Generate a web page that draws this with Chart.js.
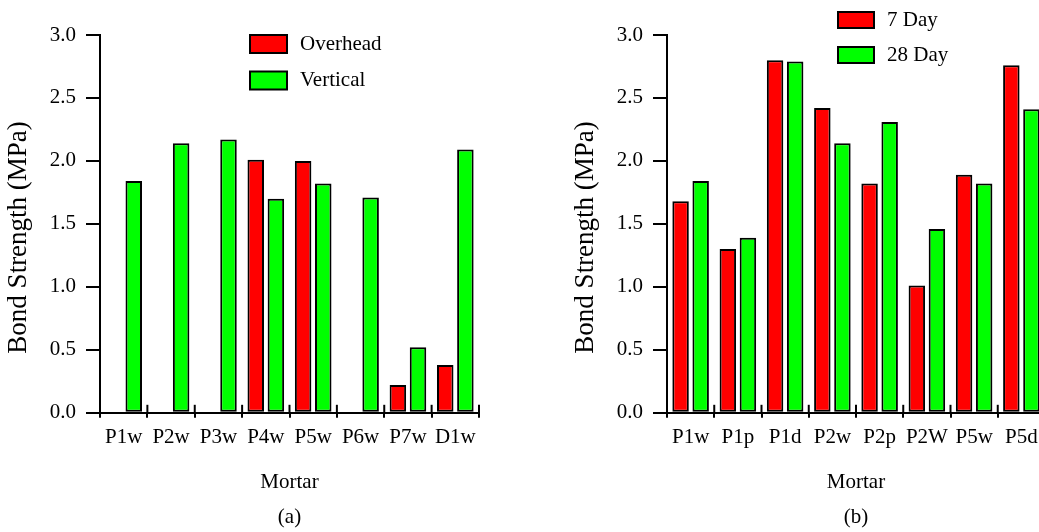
<!DOCTYPE html>
<html>
<head>
<meta charset="utf-8">
<script src="https://cdn.jsdelivr.net/npm/chart.js@4.4.1/dist/chart.umd.min.js"></script>
<style>
  body { margin: 0; width: 1039px; height: 532px; overflow: hidden; background: #fff; position: relative; }
  canvas { position: absolute; top: 0; }
  #chartA { left: 0; }
  #chartB { left: 567px; }
</style>
</head>
<body>
<canvas id="chartA" width="500" height="532"></canvas>
<canvas id="chartB" width="500" height="532"></canvas>
<script>
const yTickLabels = ["0.0", "0.5", "1.0", "1.5", "2.0", "2.5", "3.0"];

// (a) overhead vs vertical application
const mortarsA = ["P1w", "P2w", "P3w", "P4w", "P5w", "P6w", "P7w", "D1w"];
const overhead = [null, null, null, 2.01, 2.0, null, 0.22, 0.38];
const vertical = [1.84, 2.14, 2.17, 1.7, 1.82, 1.71, 0.52, 2.09];

// (b) 7 day vs 28 day
const mortarsB = ["P1w", "P1p", "P1d", "P2w", "P2p", "P2W", "P5w", "P5d"];
const day7 = [1.68, 1.3, 2.8, 2.42, 1.82, 1.01, 1.89, 2.76];
const day28 = [1.84, 1.39, 2.79, 2.14, 2.31, 1.46, 1.82, 2.41];

const RED = "#ff0000";
const GREEN = "#00ff00";

Chart.defaults.font.family = "'Liberation Serif', 'Times New Roman', serif";
Chart.defaults.color = "#000";

// legend like the original: boxes + labels sitting over the plot
const boxLegend = {
  id: "boxLegend",
  afterDraw(chart, args, opts) {
    const ctx = chart.ctx;
    const area = chart.chartArea;
    ctx.save();
    ctx.font = "21px 'Liberation Serif', serif";
    ctx.textBaseline = "middle";
    chart.data.datasets.forEach((ds, i) => {
      const x = area.left + opts.x;
      const y = area.top + opts.y + i * opts.rowGap;
      ctx.fillStyle = ds.backgroundColor;
      ctx.fillRect(x, y, opts.boxW, opts.boxH);
      ctx.lineWidth = 2;
      ctx.strokeStyle = "#000";
      ctx.strokeRect(x, y, opts.boxW, opts.boxH);
      ctx.fillStyle = "#000";
      ctx.fillText(ds.label, x + opts.boxW + 13, y + opts.boxH / 2);
    });
    ctx.restore();
  },
};

// short ticks pointing up into the plot at the category borders
const innerTicks = {
  id: "innerTicks",
  afterDatasetsDraw(chart) {
    const xs = chart.scales.x;
    const ctx = chart.ctx;
    ctx.save();
    ctx.strokeStyle = "#000";
    ctx.lineWidth = 2;
    for (let i = 0; i <= xs.ticks.length; i++) {
      const px = xs.getPixelForValue(i - 0.5);
      ctx.beginPath();
      ctx.moveTo(px, xs.top);
      ctx.lineTo(px, xs.top - 8);
      ctx.stroke();
    }
    ctx.restore();
  },
};

function makeChart(id, labels, names, series, legendPos, caption, rightPad) {
  const datasets = series.map((data, i) => ({
    label: names[i],
    data: data,
    backgroundColor: i === 0 ? RED : GREEN,
    borderColor: "#000",
    borderWidth: 2,
    borderSkipped: false,
  }));

  return new Chart(document.getElementById(id), {
    type: "bar",
    data: { labels: labels, datasets: datasets },
    plugins: [boxLegend, innerTicks],
    options: {
      responsive: false,
      animation: false,
      layout: { padding: { top: 35, right: rightPad, left: 0, bottom: 0 } },
      datasets: { bar: { categoryPercentage: 0.85, barPercentage: 0.82 } },
      plugins: {
        legend: { display: false },
        tooltip: { enabled: false },
        title: {
          display: true,
          text: caption,
          position: "bottom",
          fullSize: false,
          font: { size: 21, weight: "normal" },
          padding: { top: 0, bottom: 2 },
        },
        boxLegend: legendPos,
      },
      scales: {
        x: {
          grid: { offset: true, drawOnChartArea: false, tickLength: 5, color: "#000", lineWidth: 2 },
          border: { color: "#000", width: 2 },
          ticks: { font: { size: 21 }, padding: 7, maxRotation: 0, minRotation: 0, autoSkip: false },
          title: {
            display: true,
            text: "Mortar",
            font: { size: 21 },
            padding: { top: 0, bottom: 10 },
          },
          afterFit(scale) {
            scale.height = 92;
          },
        },
        y: {
          min: 0,
          max: 3,
          ticks: {
            stepSize: 0.5,
            font: { size: 21 },
            padding: 10,
            callback: (v, i) => yTickLabels[i],
          },
          grid: { drawOnChartArea: false, tickLength: 14, color: "#000", lineWidth: 2 },
          border: { color: "#000", width: 2 },
          title: {
            display: true,
            text: "Bond Strength (MPa)    ",
            font: { size: 27 },
            padding: { top: 3 },
          },
          afterFit(scale) {
            scale.width = 100;
          },
        },
      },
    },
  });
}

makeChart("chartA", mortarsA, ["Overhead", "Vertical"], [overhead, vertical],
  { x: 150, y: 0, boxW: 37, boxH: 18, rowGap: 36.5 }, "(a)", 21);
makeChart("chartB", mortarsB, ["7 Day", "28 Day"], [day7, day28],
  { x: 171, y: -23, boxW: 36, boxH: 16, rowGap: 35 }, "(b)", 22);
</script>
</body>
</html>
